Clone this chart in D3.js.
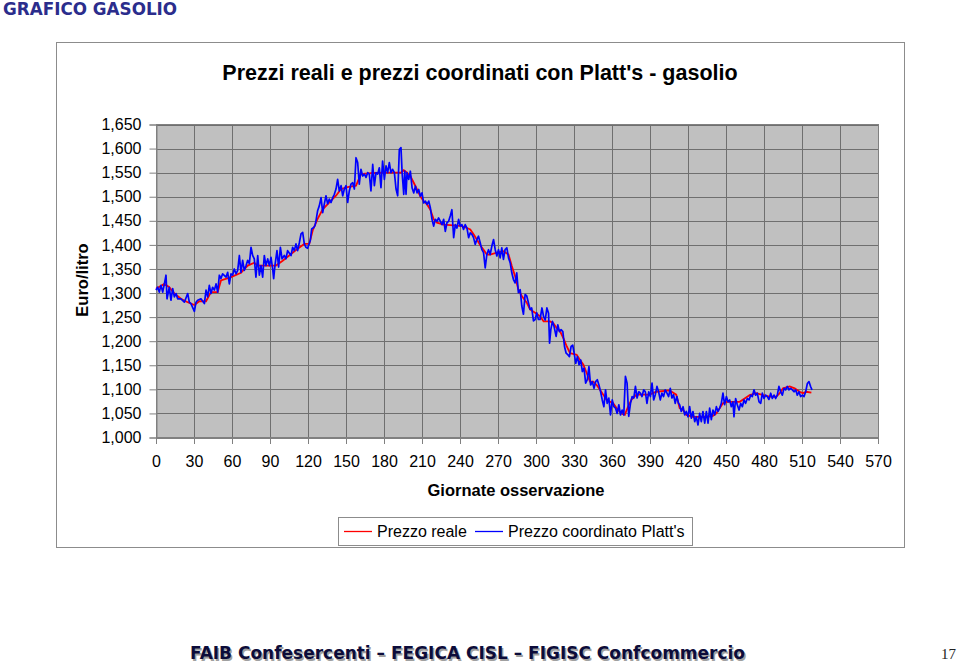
<!DOCTYPE html>
<html>
<head>
<meta charset="utf-8">
<script src="https://cdn.jsdelivr.net/npm/d3@7"></script>
<style>
  body { margin: 0; background: #fff; }
  svg  { display: block; }
</style>
</head>
<body>
<svg id="chart" width="960" height="664"></svg>
<script>
// =====================================================
// Data ([day, euro/litre])
// =====================================================
const xTicks = [0, 30, 60, 90, 120, 150, 180, 210, 240, 270, 300, 330, 360, 390, 420, 450, 480, 510, 540, 570];
const yTicks = [1.000, 1.050, 1.100, 1.150, 1.200, 1.250, 1.300, 1.350, 1.400, 1.450, 1.500, 1.550, 1.600, 1.650];

const seriesNames = ["Prezzo reale", "Prezzo coordinato Platt's"];

const prezzoReale = [
  [0,1.309],[6.6,1.319],[10.5,1.312],[14.5,1.299],[19.7,1.288],[25,1.281],[30.3,1.275],[34.2,1.283],
  [39.5,1.283],[43.4,1.302],[48.7,1.302],[51.3,1.326],[59.2,1.333],[67.1,1.342],[72.4,1.357],[77.6,1.363],
  [80.3,1.357],[94.7,1.357],[100,1.367],[106.6,1.381],[111.8,1.392],[117.1,1.402],[121,1.402],[123.7,1.430],
  [127.6,1.454],[131.6,1.474],[138.2,1.492],[142.1,1.502],[146.1,1.516],[151.3,1.520],[157.9,1.523],[161.8,1.547],
  [169.7,1.549],[180.3,1.550],[193.4,1.550],[195.6,1.555],[198.2,1.550],[200.8,1.543],[203.5,1.529],[206.1,1.515],
  [208.7,1.501],[211.3,1.491],[214,1.484],[216.6,1.473],[219.2,1.453],[221.8,1.446],[227.1,1.442],[237.6,1.440],
  [241.5,1.439],[245.5,1.435],[248.1,1.432],[250.7,1.422],[253.3,1.411],[256,1.399],[258.6,1.390],[261.2,1.380],
  [263.8,1.380],[269.1,1.384],[274.3,1.387],[278.3,1.380],[280.9,1.356],[283.5,1.335],[286.1,1.307],[288.8,1.294],
  [292.7,1.280],[295.3,1.266],[299.3,1.259],[303.2,1.252],[306,1.241],[311.2,1.241],[313.8,1.237],[316.4,1.227],
  [319.1,1.220],[321.7,1.206],[324.3,1.189],[326.9,1.175],[332.1,1.172],[334.8,1.161],[337.4,1.151],[340,1.134],
  [342.6,1.116],[345.2,1.116],[347.9,1.109],[350.5,1.099],[353.1,1.089],[355.7,1.078],[360.9,1.071],[363.6,1.061],
  [367.5,1.050],[370.1,1.047],[372.7,1.064],[375.3,1.078],[379.3,1.089],[389.7,1.089],[395,1.095],[405.4,1.098],
  [410.7,1.089],[413.4,1.061],[416.1,1.057],[418.7,1.047],[423.9,1.043],[434.5,1.043],[439.7,1.045],[442.4,1.050],
  [445,1.061],[447.6,1.071],[450.3,1.074],[460.8,1.074],[464.7,1.081],[468.7,1.088],[474,1.092],[479.2,1.088],
  [484.5,1.085],[489.7,1.085],[492.4,1.092],[495,1.102],[500.3,1.106],[504.2,1.102],[508.2,1.095],[510.8,1.092],
  [513.4,1.095],[517.4,1.093]
];

const prezzoPlatts = [
  [0,1.306],[1.3,1.312],[2.6,1.302],[3.9,1.316],[5.3,1.302],[6.6,1.319],[7.9,1.337],[8.7,1.288],[10.5,1.312],
  [11.8,1.285],[13.2,1.309],[14.5,1.292],[15.8,1.299],[17.1,1.288],[19.7,1.288],[22.4,1.281],[25,1.299],[26.3,1.281],
  [27.6,1.278],[30.3,1.262],[31.6,1.281],[32.9,1.285],[35.5,1.288],[38.2,1.278],[39.5,1.306],[40.8,1.292],[42.1,1.316],
  [43.4,1.299],[44.7,1.312],[46.1,1.306],[47.4,1.319],[48.7,1.302],[50,1.337],[51.3,1.330],[52.6,1.340],[55.3,1.333],
  [56.6,1.343],[57.9,1.319],[59.2,1.340],[60.5,1.337],[61.8,1.350],[63.2,1.340],[64.5,1.347],[65.8,1.378],[67.1,1.343],
  [68.4,1.368],[69.7,1.347],[71.1,1.357],[72.4,1.368],[73.7,1.361],[75,1.395],[76.3,1.378],[77.6,1.371],[78.9,1.333],
  [80.3,1.378],[81.6,1.337],[82.9,1.357],[84.2,1.333],[85.5,1.378],[86.8,1.357],[88.2,1.371],[89.5,1.357],[90.8,1.374],
  [92.1,1.350],[92.9,1.330],[93.9,1.357],[95.5,1.388],[96.8,1.354],[98.2,1.395],[99.5,1.371],[101.3,1.378],[102.6,1.371],
  [103.9,1.388],[106.6,1.378],[107.9,1.395],[109.2,1.388],[110.5,1.402],[111.8,1.388],[113.2,1.405],[114.5,1.423],
  [115.8,1.426],[117.1,1.402],[118.4,1.395],[119.7,1.393],[121.8,1.409],[122.9,1.433],[124.5,1.436],[125.5,1.440],
  [126.3,1.450],[127.6,1.471],[128.9,1.481],[130.3,1.498],[131.6,1.467],[132.9,1.485],[134.2,1.502],[135.5,1.485],
  [136.8,1.495],[138.2,1.488],[139.5,1.498],[140.8,1.505],[142.1,1.516],[143.4,1.536],[144.7,1.512],[146.1,1.523],
  [147.4,1.502],[148.7,1.516],[150,1.523],[151.3,1.488],[152.6,1.512],[153.9,1.526],[155.3,1.529],[156.6,1.516],
  [157.9,1.581],[159.2,1.571],[160.5,1.526],[161.8,1.557],[163.2,1.543],[164.5,1.547],[165.8,1.540],[167.1,1.550],
  [168.4,1.547],[169.7,1.512],[171.1,1.567],[172.4,1.523],[173.7,1.550],[175,1.547],[176.3,1.560],[177.6,1.519],
  [178.9,1.574],[180.3,1.536],[181.6,1.564],[182.9,1.550],[184.2,1.571],[185.5,1.550],[186.8,1.557],[188.2,1.550],
  [189.5,1.516],[190.8,1.502],[192.1,1.598],[193.4,1.602],
  [194.3,1.550],[195.6,1.505],[196.4,1.553],[197.4,1.505],[198.2,1.550],[199.5,1.536],[200.8,1.553],[202.2,1.518],
  [203.5,1.508],[204.8,1.522],[206.1,1.508],[207.4,1.515],[208.7,1.501],[210,1.508],[211.3,1.487],[212.7,1.491],
  [214,1.484],[215.3,1.491],[216.6,1.477],[217.9,1.453],[219.2,1.439],[220.5,1.453],[221.8,1.449],[223.1,1.456],
  [224.5,1.449],[225.8,1.442],[227.1,1.453],[228.4,1.428],[229.7,1.446],[231,1.449],[232.3,1.460],[233.6,1.473],
  [235,1.415],[236.3,1.442],[237.6,1.435],[238.9,1.453],[240.2,1.439],[241.5,1.442],[242.8,1.432],[244.1,1.442],
  [245.5,1.435],[246.8,1.415],[248.1,1.425],[249.4,1.422],[250.7,1.415],[252,1.401],[253.3,1.411],[254.6,1.418],
  [256,1.404],[257.3,1.390],[258.6,1.384],[259.9,1.352],[261.2,1.380],[262.5,1.390],[263.8,1.380],[265.1,1.397],
  [266.5,1.411],[267.8,1.390],[269.1,1.377],[270.4,1.390],[271.7,1.373],[273,1.394],[274.3,1.370],[275.6,1.390],
  [277,1.394],[278.3,1.373],[279.6,1.363],[280.9,1.342],[282.2,1.328],[283.5,1.321],[284.8,1.342],[286.1,1.301],
  [287.5,1.307],[288.8,1.273],[290.1,1.256],[291.4,1.297],[292.7,1.294],[294,1.280],[295.3,1.266],[296.6,1.269],
  [298,1.242],[299.3,1.245],[300.6,1.259],[301.9,1.245],[303.2,1.245],
  [304.7,1.269],[306,1.251],[307.3,1.244],[308.6,1.269],[309.9,1.258],[310.7,1.196],[311.7,1.224],[313,1.241],
  [314.3,1.230],[315.9,1.210],[317.2,1.234],[318.5,1.220],[319.8,1.224],[321.2,1.220],[322.5,1.189],[323.8,1.175],
  [325.1,1.172],[326.4,1.168],[327.7,1.189],[329,1.192],[330.3,1.172],[331.4,1.154],[332.7,1.168],[334,1.151],
  [335.3,1.161],[336.6,1.137],[337.9,1.144],[339.2,1.113],[340.5,1.120],[341.8,1.147],[343.1,1.109],[344.5,1.116],
  [345.8,1.102],[347.1,1.116],[348.4,1.120],[349.7,1.109],[351,1.095],[352.3,1.078],[353.6,1.064],[354.9,1.099],
  [356.2,1.071],[357.5,1.082],[358.8,1.047],[360.2,1.078],[361.5,1.064],[362.8,1.061],[364.1,1.050],[365.4,1.068],
  [366.7,1.047],[368,1.057],[369.3,1.047],[370.6,1.127],[371.9,1.113],[373.2,1.044],[374.6,1.071],[375.9,1.085],
  [377.2,1.082],[378.5,1.106],[379.8,1.082],[381.1,1.095],[382.4,1.092],[383.7,1.085],[385,1.099],[386.3,1.095],
  [387.6,1.071],[389,1.095],[390.3,1.085],[391.6,1.113],[392.9,1.078],[394.2,1.089],[395.5,1.106],[396.8,1.095],
  [398.1,1.078],[399.4,1.092],[400.7,1.085],[402,1.099],[403.4,1.092],[404.7,1.085],[406,1.102],[407.3,1.082],
  [408.6,1.089],[409.9,1.071],[411.2,1.085],[412.5,1.071],
  [413.4,1.068],[414.7,1.054],[416.1,1.064],[417.4,1.047],[418.7,1.054],[420,1.043],[421.3,1.064],[422.6,1.040],
  [423.9,1.054],[425.3,1.033],[426.6,1.043],[427.9,1.026],[429.2,1.050],[430.5,1.033],[431.8,1.054],[433.2,1.030],
  [434.5,1.054],[435.8,1.030],[437.1,1.061],[438.4,1.037],[439.7,1.057],[441.1,1.047],[442.4,1.064],[443.7,1.054],
  [445,1.061],[446.3,1.071],[447.6,1.092],[448.9,1.068],[450.3,1.085],[451.6,1.074],[452.9,1.078],[454.2,1.064],
  [455.5,1.074],[456.3,1.043],[457.6,1.081],[458.9,1.068],[460.3,1.057],[461.6,1.071],[462.9,1.064],[464.2,1.078],
  [465.5,1.071],[466.8,1.081],[468.2,1.078],[469.5,1.088],[470.8,1.085],[472.1,1.099],[473.4,1.088],[474.7,1.092],
  [476.1,1.074],[477.4,1.071],[478.7,1.092],[480,1.081],[481.3,1.088],[482.6,1.085],[483.9,1.079],[485.3,1.092],
  [486.6,1.081],[487.9,1.088],[489.2,1.081],[490.5,1.088],[491.8,1.106],[493.2,1.095],[494.5,1.088],[495.8,1.102],
  [497.1,1.099],[498.4,1.106],[499.7,1.099],[501.1,1.102],[502.4,1.099],[503.7,1.095],[505,1.099],[506.3,1.088],
  [507.6,1.095],[508.9,1.085],[510.3,1.088],[511.6,1.085],[512.9,1.095],[514.2,1.112],[515.5,1.116],[516.8,1.106],
  [517.9,1.099]
];

// =====================================================
// Layout
// =====================================================
const plot = { left: 156, right: 878, top: 124.5, bottom: 437.5 };
const FONT = "'Liberation Sans', Arial, sans-serif";

const svg = d3.select("#chart");
svg.append("rect").attr("width", 960).attr("height", 664).attr("fill", "#fff");

const it = d3.formatLocale({ decimal: ",", thousands: ".", grouping: [3], currency: ["€", ""] });
const fmtY = it.format(".3f");

const x = d3.scaleLinear().domain([0, 570]).range([plot.left, plot.right]);
const y = d3.scaleLinear().domain([1.0, 1.65]).range([plot.bottom, plot.top]);

// page header
svg.append("text")
  .attr("x", 3).attr("y", 15)
  .attr("font-family", "'DejaVu Sans', Verdana, sans-serif")
  .attr("font-weight", "bold").attr("font-size", 16.8)
  .attr("fill", "#2b2d8c")
  .text("GRAFICO GASOLIO");

// chart frame
svg.append("rect")
  .attr("x", 56.5).attr("y", 42.5).attr("width", 848).attr("height", 505)
  .attr("fill", "#fff").attr("stroke", "#8c8c8c");

svg.append("text")
  .attr("x", 480).attr("y", 80)
  .attr("text-anchor", "middle")
  .attr("font-family", FONT).attr("font-weight", "bold").attr("font-size", 21.5)
  .text("Prezzi reali e prezzi coordinati con Platt's - gasolio");

// plot area
svg.append("rect")
  .attr("x", plot.left).attr("y", plot.top)
  .attr("width", plot.right - plot.left).attr("height", plot.bottom - plot.top)
  .attr("fill", "#c0c0c0");

const grid = svg.append("g").attr("stroke", "#6f6f6f").attr("stroke-width", 1);
grid.selectAll(".gx").data(xTicks).enter().append("line")
  .attr("x1", d => Math.round(x(d)) + 0.5).attr("x2", d => Math.round(x(d)) + 0.5)
  .attr("y1", plot.top).attr("y2", plot.bottom);
grid.selectAll(".gy").data(yTicks).enter().append("line")
  .attr("x1", plot.left).attr("x2", plot.right)
  .attr("y1", d => Math.round(y(d)) + 0.5).attr("y2", d => Math.round(y(d)) + 0.5);

svg.append("rect")
  .attr("x", plot.left + 0.5).attr("y", plot.top)
  .attr("width", plot.right - plot.left).attr("height", plot.bottom - plot.top)
  .attr("fill", "none").attr("stroke", "#808080");

// axes
const yAxis = svg.append("g")
  .attr("transform", `translate(${plot.left + 0.5},0)`)
  .call(d3.axisLeft(y).tickValues(yTicks).tickSize(7).tickPadding(8).tickFormat(fmtY));
const xAxis = svg.append("g")
  .attr("transform", `translate(0,${plot.bottom + 0.5})`)
  .call(d3.axisBottom(x).tickValues(xTicks).tickSize(6).tickPadding(11.5));

[xAxis, yAxis].forEach(a => {
  a.select(".domain").attr("stroke", "#808080");
  a.selectAll(".tick line").attr("stroke", "#808080");
  a.selectAll("text")
    .attr("font-family", FONT).attr("font-size", 16).attr("fill", "#000");
});

// axis titles
svg.append("text")
  .attr("transform", "translate(88,280) rotate(-90)")
  .attr("text-anchor", "middle")
  .attr("font-family", FONT).attr("font-weight", "bold").attr("font-size", 16.5)
  .text("Euro/litro");

svg.append("text")
  .attr("x", 516).attr("y", 496)
  .attr("text-anchor", "middle")
  .attr("font-family", FONT).attr("font-weight", "bold").attr("font-size", 16.5)
  .text("Giornate osservazione");

// lines
const line = d3.line().x(d => x(d[0])).y(d => y(d[1]));
const colors = ["#ff0000", "#0000ff"];

svg.append("path").datum(prezzoReale)
  .attr("fill", "none").attr("stroke", colors[0]).attr("stroke-width", 1.8)
  .attr("d", line);
svg.append("path").datum(prezzoPlatts)
  .attr("fill", "none").attr("stroke", colors[1]).attr("stroke-width", 1.7)
  .attr("stroke-linejoin", "round")
  .attr("d", line);

// legend
const legend = svg.append("g");
legend.append("rect")
  .attr("x", 338.5).attr("y", 517.5).attr("width", 354).attr("height", 28)
  .attr("fill", "#fff").attr("stroke", "#8c8c8c");
const legendItems = [{ x: 344, tx: 377 }, { x: 475, tx: 508 }];
legendItems.forEach((l, i) => {
  legend.append("line")
    .attr("x1", l.x).attr("x2", l.x + 28).attr("y1", 531.5).attr("y2", 531.5)
    .attr("stroke", colors[i]).attr("stroke-width", 1.3);
  legend.append("text")
    .attr("x", l.tx).attr("y", 537)
    .attr("font-family", FONT).attr("font-size", 16)
    .text(seriesNames[i]);
});

// footer
const footer = "FAIB Confesercenti \u2013 FEGICA CISL \u2013 FIGISC Confcommercio";
[["#a0a0a0", 1.5], ["#0c0c3a", 0]].forEach(([c, o]) => {
  svg.append("text")
    .attr("x", 190 + o).attr("y", 659 + o)
    .attr("font-family", "'DejaVu Sans', Tahoma, sans-serif")
    .attr("font-weight", "bold").attr("font-size", 18)
    .attr("textLength", 555).attr("lengthAdjust", "spacingAndGlyphs")
    .attr("fill", c)
    .text(footer);
});

svg.append("text")
  .attr("x", 956).attr("y", 659)
  .attr("text-anchor", "end")
  .attr("font-family", "'Liberation Serif', 'DejaVu Serif', serif")
  .attr("font-size", 15).attr("fill", "#222")
  .text("17");
</script>
</body>
</html>
